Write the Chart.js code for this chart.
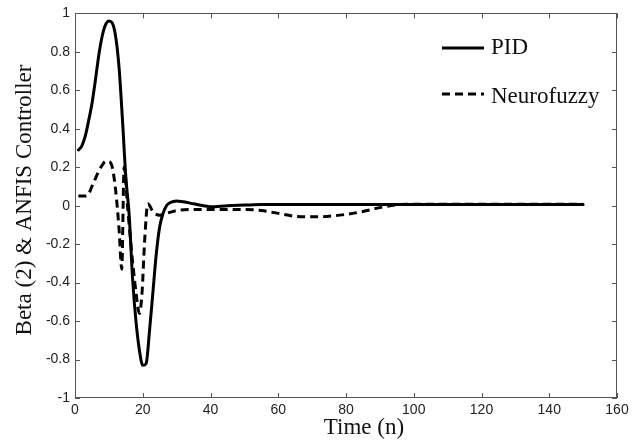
<!DOCTYPE html>
<html>
<head>
<meta charset="utf-8">
<script src="https://cdn.jsdelivr.net/npm/chart.js@4/dist/chart.umd.min.js"></script>
<style>
  html, body { margin: 0; padding: 0; background: #fff; }
  #wrap { width: 637px; height: 441px; }
</style>
</head>
<body>
<div id="wrap"><canvas id="chart" width="637" height="441"></canvas></div>
<script>
// Beta (2) & ANFIS controller response

const xTicks = [0, 20, 40, 60, 80, 100, 120, 140, 160];
const yTicks = [-1, -0.8, -0.6, -0.4, -0.2, 0, 0.2, 0.4, 0.6, 0.8, 1];

const pidTime = [1, 2, 3, 4, 5, 6, 7, 8, 9, 10, 11, 12, 13, 14, 15, 16, 17, 18, 19, 20, 21, 22, 23, 24, 25, 26, 27, 28, 30, 32, 35, 38, 40, 45, 50, 55, 60, 80, 100, 120, 150];
const pidValues = [0.29, 0.31, 0.36, 0.44, 0.53, 0.65, 0.78, 0.88, 0.94, 0.96, 0.95, 0.88, 0.72, 0.45, 0.15, -0.05, -0.38, -0.6, -0.75, -0.83, -0.82, -0.65, -0.45, -0.25, -0.11, -0.04, 0.0, 0.015, 0.025, 0.02, 0.01, 0.0, -0.005, 0.0, 0.003, 0.006, 0.006, 0.006, 0.006, 0.006, 0.006];

const nfTime = [1, 3, 4, 5, 6, 7, 8, 9, 10, 11, 12, 13, 13.8, 14.5, 15.5, 16.5, 18, 19, 19.8, 20.5, 21.5, 23, 25, 27, 30, 35, 40, 50, 55, 60, 65, 70, 75, 80, 85, 90, 95, 98, 120, 150];
const nfValues = [0.05, 0.05, 0.06, 0.1, 0.14, 0.18, 0.21, 0.23, 0.23, 0.2, 0.08, -0.12, -0.33, 0.2, 0.0, -0.2, -0.45, -0.56, -0.45, -0.2, 0.01, -0.03, -0.05, -0.04, -0.025, -0.02, -0.02, -0.02, -0.025, -0.04, -0.055, -0.058, -0.055, -0.045, -0.03, -0.01, 0.005, 0.008, 0.008, 0.008];

const seriesNames = ['PID', 'Neurofuzzy'];
const xTitle = 'Time (n)';
const yTitle = 'Beta (2) & ANFIS Controller';

const toPoints = (xs, ys) => xs.map((x, i) => ({ x, y: ys[i] }));

const serif = '23px "Liberation Serif", "Times New Roman", serif';

// box frame, inward ticks on all four sides, axis titles and the legend
const framePlugin = {
  id: 'frame',
  afterDraw(chart) {
    const { ctx, chartArea: a, scales: { x, y } } = chart;
    ctx.save();
    ctx.strokeStyle = '#555';
    ctx.lineWidth = 1;
    ctx.strokeRect(Math.round(a.left) + 0.5, Math.round(a.top) + 0.5, Math.round(a.width) - 1, Math.round(a.height) - 1);
    ctx.beginPath();
    xTicks.forEach(v => {
      const px = Math.round(x.getPixelForValue(v)) + 0.5;
      ctx.moveTo(px, a.bottom); ctx.lineTo(px, a.bottom - 5);
      ctx.moveTo(px, a.top); ctx.lineTo(px, a.top + 5);
    });
    yTicks.forEach(v => {
      const py = Math.round(y.getPixelForValue(v)) + 0.5;
      ctx.moveTo(a.left, py); ctx.lineTo(a.left + 5, py);
      ctx.moveTo(a.right, py); ctx.lineTo(a.right - 5, py);
    });
    ctx.stroke();

    ctx.fillStyle = '#111';
    ctx.font = serif;
    ctx.textBaseline = 'middle';

    // axis titles (MATLAB placed them a bit off the plot centre)
    ctx.textAlign = 'center';
    ctx.fillText(xTitle, 364, 428);
    ctx.save();
    ctx.translate(25, 200);
    ctx.rotate(-Math.PI / 2);
    ctx.fillText(yTitle, 0, 0);
    ctx.restore();

    // legend
    ctx.strokeStyle = '#000';
    ctx.lineWidth = 3;
    ctx.beginPath();
    ctx.moveTo(442, 48); ctx.lineTo(484, 48);
    ctx.stroke();
    ctx.setLineDash([8, 5]);
    ctx.beginPath();
    ctx.moveTo(442, 94); ctx.lineTo(484, 94);
    ctx.stroke();
    ctx.setLineDash([]);
    ctx.textAlign = 'left';
    ctx.fillText(seriesNames[0], 491, 48);
    ctx.fillText(seriesNames[1], 491, 97);
    ctx.restore();
  }
};

const tickFont = { family: '"Liberation Sans", Arial, sans-serif', size: 14 };

new Chart(document.getElementById('chart'), {
  type: 'line',
  data: {
    datasets: [
      {
        label: seriesNames[0],
        data: toPoints(pidTime, pidValues),
        borderColor: '#000',
        borderWidth: 3,
        pointRadius: 0,
        cubicInterpolationMode: 'monotone',
        borderCapStyle: 'round',
        fill: false,
      },
      {
        label: seriesNames[1],
        data: toPoints(nfTime, nfValues),
        borderColor: '#000',
        borderWidth: 3,
        borderDash: [8, 5],
        pointRadius: 0,
        cubicInterpolationMode: 'monotone',
        fill: false,
      },
    ]
  },
  options: {
    responsive: false,
    animation: false,
    devicePixelRatio: 1,
    layout: { padding: { top: 13, right: 20, left: 0, bottom: 0 } },
    plugins: {
      legend: { display: false },
      tooltip: { enabled: false },
    },
    scales: {
      x: {
        type: 'linear',
        min: 0, max: 160,
        afterBuildTicks: s => { s.ticks = xTicks.map(v => ({ value: v })); },
        afterFit: s => { s.height = 43; },
        grid: { display: false, drawTicks: false },
        border: { display: false },
        ticks: { color: '#222', font: tickFont, padding: 4, maxRotation: 0, callback: v => String(v) },
      },
      y: {
        type: 'linear',
        min: -1, max: 1,
        afterBuildTicks: s => { s.ticks = yTicks.map(v => ({ value: v })); },
        afterFit: s => { s.width = 75; },
        grid: { display: false, drawTicks: false },
        border: { display: false },
        ticks: { color: '#222', font: tickFont, padding: 5, callback: v => String(+v.toFixed(1)) },
      },
    },
  },
  plugins: [framePlugin],
});
</script>
</body>
</html>
